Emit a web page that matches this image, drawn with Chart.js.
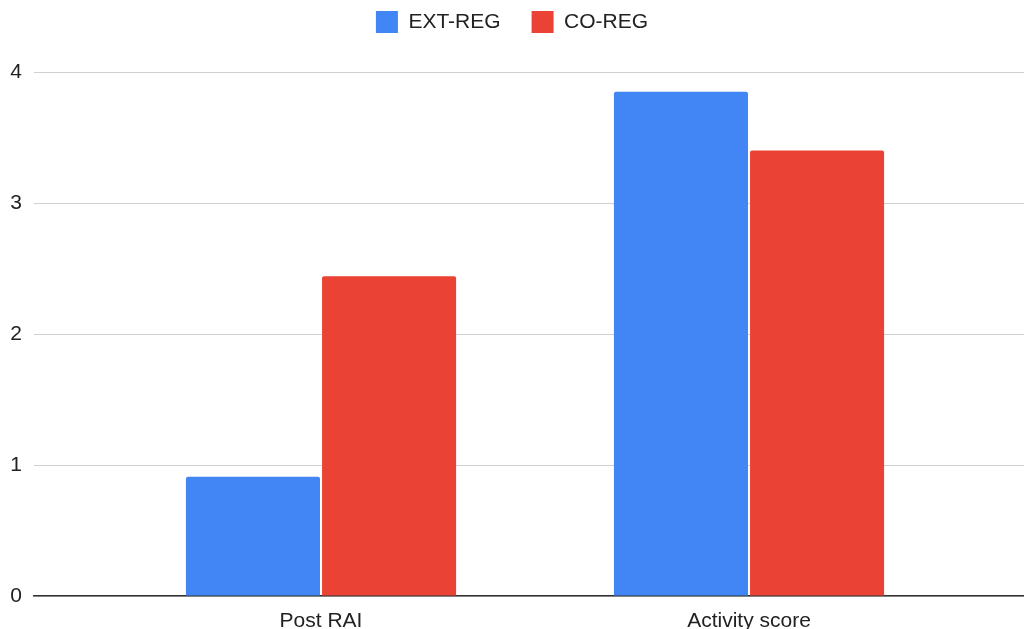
<!DOCTYPE html>
<html>
<head>
<meta charset="utf-8">
<script src="https://cdn.jsdelivr.net/npm/chart.js@4/dist/chart.umd.min.js"></script>
<style>
  html, body { margin: 0; padding: 0; background: #fff; }
  #wrap { width: 1024px; height: 629px; }
</style>
</head>
<body>
<div id="wrap"><canvas id="chart" width="1024" height="629"></canvas></div>
<script>
// Данные графика
const categories = ['Post RAI', 'Activity score'];
const extReg = [0.91, 3.85];
const coReg = [2.44, 3.40];
const yTicks = [0, 1, 2, 3, 4];

const FONT = '"Liberation Sans", Arial, sans-serif';

// фиксированная высота легенды
const legendHeight = {
  id: 'legendHeight',
  beforeInit(chart) {
    const fit = chart.legend.fit;
    chart.legend.fit = function () {
      fit.call(chart.legend);
      this.height = 92;
    };
  }
};

const toPoints = arr => arr.map((v, i) => ({ x: i, y: v }));

new Chart(document.getElementById('chart'), {
  type: 'bar',
  data: {
    datasets: [
      {
        label: 'EXT-REG',
        data: toPoints(extReg),
        backgroundColor: '#4285F4',
        borderRadius: 2,
        borderSkipped: 'start'
      },
      {
        label: 'CO-REG',
        data: toPoints(coReg),
        backgroundColor: '#EA4335',
        borderRadius: 2,
        borderSkipped: 'start'
      }
    ]
  },
  options: {
    responsive: false,
    animation: false,
    categoryPercentage: 0.636,
    barPercentage: 0.985,
    layout: { padding: { left: 0, right: 0, top: -20, bottom: 0 } },
    plugins: {
      legend: {
        position: 'top',
        labels: {
          font: { family: FONT, size: 21 },
          color: '#222',
          boxWidth: 22,
          boxHeight: 22,
          padding: 31
        }
      },
      tooltip: { enabled: false }
    },
    scales: {
      x: {
        type: 'linear',
        offset: false,
        bounds: 'data',
        min: -0.6706,
        max: 1.6425,
        afterBuildTicks: scale => {
          scale.ticks = categories.map((c, i) => ({ value: i }));
        },
        afterFit: scale => { scale.height = 33; },
        ticks: {
          font: { family: FONT, size: 21 },
          color: '#222',
          padding: 13,
          maxRotation: 0,
          callback: v => categories[v]
        },
        grid: { display: false, drawTicks: false },
        border: { display: true, color: '#333', width: 1.5 }
      },
      y: {
        min: 0,
        max: 4,
        afterBuildTicks: scale => {
          scale.ticks = yTicks.map(v => ({ value: v }));
        },
        afterFit: scale => { scale.width = 34; },
        ticks: {
          font: { family: FONT, size: 21 },
          color: '#222',
          padding: 12
        },
        grid: { color: '#d0d0d0', drawTicks: false },
        border: { display: false }
      }
    }
  },
  plugins: [legendHeight]
});
</script>
</body>
</html>
